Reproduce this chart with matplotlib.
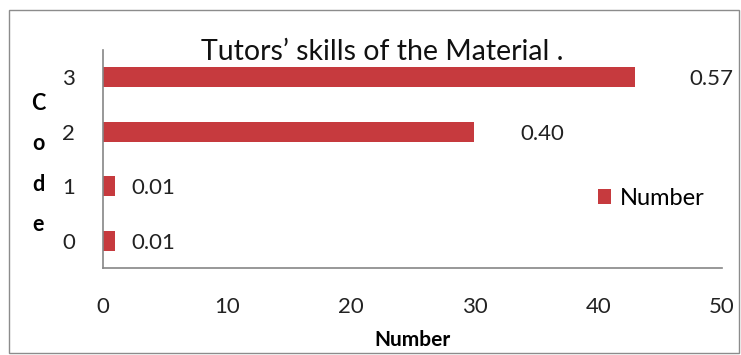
import matplotlib
matplotlib.use("Agg")
import matplotlib.pyplot as plt
from matplotlib.patches import Rectangle

# Data
codes = ["0", "1", "2", "3"]
counts = [1, 1, 30, 43]
shares = [0.01, 0.01, 0.40, 0.57]
x_ticks = [0, 10, 20, 30, 40, 50]

bar_color = "#C63A3E"
font = ["Lato", "DejaVu Sans"]
plt.rcParams["font.family"] = font
fs = 16

fig = plt.figure(figsize=(7.41, 3.55), dpi=100)
fig.patch.set_facecolor("white")

# outer chart border
fig.add_artist(Rectangle((9 / 741, 2 / 355), 730 / 741, 343 / 355,
                         transform=fig.transFigure, fill=False,
                         edgecolor="#8c8c8c", linewidth=1.0))

ax = fig.add_axes([103 / 741, 1 - 268 / 355, 619 / 741, 218 / 355])
ypos = list(range(len(codes)))
ax.barh(ypos, counts, height=0.37, color=bar_color, label="Number")

ax.set_xlim(0, 50)
ax.set_ylim(-0.5, 3.5)
ax.set_xticks(x_ticks)
ax.set_xticklabels([str(t) for t in x_ticks], fontsize=fs, color="#222222")
ax.set_yticks(ypos)
ax.set_yticklabels(codes, fontsize=fs, color="#222222")
ax.tick_params(axis="x", length=0, pad=21)
ax.tick_params(axis="y", length=0, pad=20)

for side in ("top", "right"):
    ax.spines[side].set_visible(False)
for side in ("left", "bottom"):
    ax.spines[side].set_color("#868686")
    ax.spines[side].set_linewidth(1.2)

# value labels (shares) beside each bar
label_gap = [1.3, 1.3, 3.7, 4.4]
for y, c, s, g in zip(ypos, counts, shares, label_gap):
    ax.text(c + g, y - 0.04, f"{s:.2f}", va="center", ha="left",
            fontsize=fs, color="#222222")

ax.set_xlabel("Number", fontsize=15, fontweight="bold", labelpad=9)
fig.text(38 / 741, 1 - 164 / 355, "C\no\nd\ne", ha="center", va="center",
         fontsize=15.5, fontweight="bold", linespacing=2.15)

fig.text(382 / 741, 1 - 52 / 355, "Tutors\u02bc skills of the Material .",
         ha="center", va="center", fontsize=20.5, color="#111111")

ax.legend(loc="center left", bbox_to_anchor=(0.80, 0.32), frameon=False,
          fontsize=17, handlelength=0.55, handleheight=0.55, handletextpad=0.35,
          borderpad=0, borderaxespad=0)

fig.savefig("out.png", dpi=100)
